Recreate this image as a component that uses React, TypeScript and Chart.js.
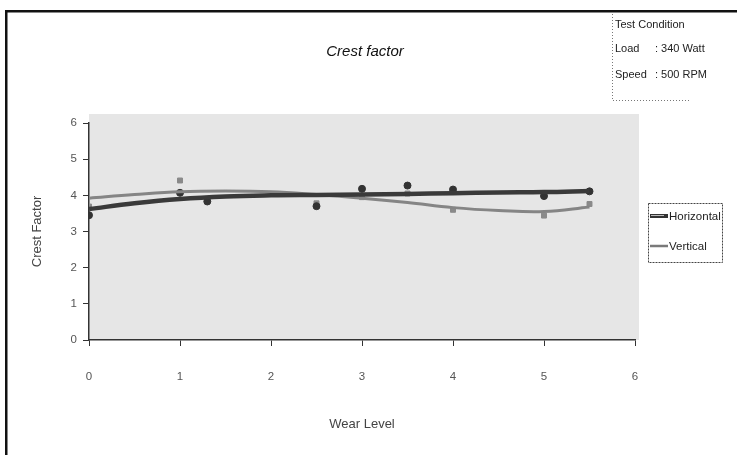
import React, { useEffect, useRef } from "react";
import { Chart, registerables } from "chart.js";

Chart.register(...registerables);

const wearLevels = [0, 1, 1.3, 2.5, 3, 3.5, 4, 5, 5.5];
const horizontalCF = [3.45, 4.07, 3.83, 3.7, 4.18, 4.27, 4.16, 3.98, 4.11];
const verticalCF = [3.69, 4.41, 3.9, 3.78, 3.95, 4.05, 3.6, 3.44, 3.76];

const trendX = [0, 0.5, 1, 1.5, 2, 2.5, 3, 3.5, 4, 4.5, 5, 5.5];
const horizontalTrend = [3.62, 3.78, 3.9, 3.97, 4.0, 4.01, 4.02, 4.04, 4.06, 4.08, 4.09, 4.12];
const verticalTrend = [3.92, 4.02, 4.1, 4.12, 4.1, 4.02, 3.92, 3.8, 3.66, 3.58, 3.55, 3.68];

const xTicks = [0, 1, 2, 3, 4, 5, 6];
const yTicks = [0, 1, 2, 3, 4, 5, 6];

const titleText = "Crest factor";
const xTitle = "Wear Level";
const yTitle = "Crest Factor";
const legendLabels = ["Horizontal", "Vertical"];
const conditionLines = [
  ["Test Condition", ""],
  ["Load", ": 340 Watt"],
  ["Speed", ": 500 RPM"],
];

const FONT = "'Liberation Sans', Arial, sans-serif";

const decorPlugin = {
  id: "decor",
  beforeDraw(chart: any) {
    const { ctx, chartArea } = chart;
    ctx.save();
    ctx.fillStyle = "#e6e6e6";
    ctx.fillRect(chartArea.left, chartArea.top - 9, chartArea.right - chartArea.left + 4, chartArea.bottom - chartArea.top + 9);
    ctx.restore();
  },
  afterDraw(chart: any) {
    const { ctx } = chart;
    ctx.save();
    // page frame
    ctx.fillStyle = "#111";
    ctx.fillRect(5, 10, 732, 2.5);
    ctx.fillRect(5, 10, 2.5, 445);

    // title
    ctx.fillStyle = "#111";
    ctx.font = `italic 15px ${FONT}`;
    ctx.textAlign = "center";
    ctx.textBaseline = "middle";
    ctx.fillText(titleText, 365, 52);

    // test condition box
    ctx.fillStyle = "#fff";
    ctx.fillRect(612, 13, 125, 88);
    ctx.strokeStyle = "#777";
    ctx.lineWidth = 1;
    ctx.setLineDash([1, 2]);
    ctx.beginPath();
    ctx.moveTo(612.5, 14);
    ctx.lineTo(612.5, 100.5);
    ctx.lineTo(690, 100.5);
    ctx.stroke();
    ctx.setLineDash([]);
    ctx.fillStyle = "#222";
    ctx.font = `11px ${FONT}`;
    ctx.textAlign = "left";
    const ys = [25, 49, 75];
    conditionLines.forEach((row, i) => {
      ctx.fillText(row[0], 615, ys[i]);
      if (row[1]) ctx.fillText(row[1], 655, ys[i]);
    });

    // legend
    ctx.fillStyle = "#fff";
    ctx.fillRect(648, 203, 75, 60);
    ctx.strokeStyle = "#444";
    ctx.setLineDash([2, 1]);
    ctx.strokeRect(648.5, 203.5, 74, 59);
    ctx.setLineDash([]);
    ctx.lineCap = "butt";
    ctx.strokeStyle = "#333";
    ctx.lineWidth = 4;
    ctx.beginPath();
    ctx.moveTo(650, 216);
    ctx.lineTo(668, 216);
    ctx.stroke();
    ctx.strokeStyle = "#bbb";
    ctx.lineWidth = 1;
    ctx.beginPath();
    ctx.moveTo(651, 215.5);
    ctx.lineTo(664, 215.5);
    ctx.stroke();
    ctx.strokeStyle = "#7a7a7a";
    ctx.lineWidth = 2.5;
    ctx.beginPath();
    ctx.moveTo(650, 246);
    ctx.lineTo(668, 246);
    ctx.stroke();
    ctx.fillStyle = "#222";
    ctx.font = `11.5px ${FONT}`;
    ctx.fillText(legendLabels[0], 669, 217);
    ctx.fillText(legendLabels[1], 669, 247);
    ctx.restore();
  },
};

export default function App() {
  const ref = useRef<HTMLCanvasElement | null>(null);
  useEffect(() => {
    if (!ref.current) return;
    const chart = new Chart(ref.current, {
      type: "scatter",
      data: {
        datasets: [
          {
            type: "line",
            label: legendLabels[0] + " trend",
            data: trendX.map((x, i) => ({ x, y: horizontalTrend[i] })),
            borderColor: "#3a3a3a",
            borderWidth: 4.5,
            pointRadius: 0,
            tension: 0.4,
            fill: false,
          },
          {
            type: "line",
            label: legendLabels[1] + " trend",
            data: trendX.map((x, i) => ({ x, y: verticalTrend[i] })),
            borderColor: "#858585",
            borderWidth: 3,
            pointRadius: 0,
            tension: 0.4,
            fill: false,
          },
          {
            label: legendLabels[0],
            data: wearLevels.map((x, i) => ({ x, y: horizontalCF[i] })),
            backgroundColor: "#333",
            borderColor: "#333",
            pointStyle: "circle",
            pointRadius: 3.5,
          },
          {
            label: legendLabels[1],
            data: wearLevels.map((x, i) => ({ x, y: verticalCF[i] })),
            backgroundColor: "#8a8a8a",
            borderColor: "#8a8a8a",
            pointStyle: "rect",
            pointRadius: 3.5,
          },
        ],
      },
      options: {
        responsive: false,
        animation: false,
        layout: { padding: { left: 25, right: 102, top: 123, bottom: 0 } },
        plugins: { legend: { display: false }, tooltip: { enabled: false } },
        scales: {
          x: {
            type: "linear",
            min: 0,
            max: 6,
            afterBuildTicks: (s: any) => { s.ticks = xTicks.map((v) => ({ value: v })); },
            afterFit: (s: any) => { s.height = 115; },
            grid: { drawOnChartArea: false, drawTicks: true, tickLength: 6, color: "#333" },
            border: { display: true, color: "#333", width: 1.5 },
            ticks: { color: "#555", font: { family: FONT, size: 11.5 }, padding: 24, maxRotation: 0 },
            title: { display: true, text: xTitle, color: "#444", font: { family: FONT, size: 13 }, padding: { top: 0, bottom: 23 } },
          },
          y: {
            type: "linear",
            min: 0,
            max: 6,
            afterBuildTicks: (s: any) => { s.ticks = yTicks.map((v) => ({ value: v })); },
            afterFit: (s: any) => { s.width = 64; },
            grid: { drawOnChartArea: false, drawTicks: true, tickLength: 6, color: "#333" },
            border: { display: true, color: "#333", width: 1.5 },
            ticks: { color: "#555", font: { family: FONT, size: 11.5 }, padding: 6 },
            title: { display: true, text: yTitle, color: "#444", font: { family: FONT, size: 13 }, padding: { top: 5, bottom: 0 } },
          },
        },
      },
      plugins: [decorPlugin],
    } as any);
    return () => chart.destroy();
  }, []);
  return (
    <div style={{ position: "absolute", left: 0, top: 0, width: 737, height: 455, background: "#fff" }}>
      <canvas ref={ref} width={737} height={455} />
    </div>
  );
}
